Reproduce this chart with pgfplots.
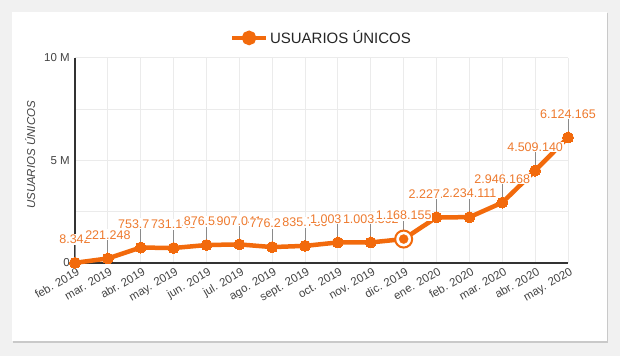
\documentclass[border=0pt]{standalone}
\usepackage{pgfplots}
\pgfplotsset{compat=1.18}
\usepackage{pgfplotstable}
\usepackage{fontspec}
\setmainfont{Liberation Sans}
\usetikzlibrary{shadows}
\definecolor{orangeline}{HTML}{F26A0C}
\definecolor{orangelabel}{HTML}{EE7A2E}
\definecolor{gridgray}{HTML}{EBEBEB}
\definecolor{axisgray}{HTML}{333333}
\definecolor{textgray}{HTML}{444444}
\definecolor{leadgray}{HTML}{8A8A8A}
\definecolor{bggray}{HTML}{F1F1F1}
\pgfplotstableread{
x y label
0 8342 8.342
1 221248 221.248
2 753712 753.712
3 731148 731.148
4 876523 876.523
5 907041 907.041
6 776254 776.254
7 835730 835.730
8 1003145 1.003.145
9 1003562 1.003.562
10 1168155 1.168.155
11 2227330 2.227.330
12 2234111 2.234.111
13 2946168 2.946.168
14 4509140 4.509.140
15 6124165 6.124.165
}\data
\begin{document}
\begin{tikzpicture}[x=1pt,y=1pt]
\path[use as bounding box] (0,0) rectangle (620,356);
\fill[bggray] (0,0) rectangle (620,356);
\fill[white, drop shadow={shadow xshift=0.5pt, shadow yshift=-1.5pt, opacity=0.35}] (12,15) rectangle (607,344);
\begin{axis}[
  at={(75pt,93pt)}, anchor=south west,
  scale only axis, width=493pt, height=205pt,
  xmin=0, xmax=15, ymin=0, ymax=10000000,
  clip=false,
  scaled y ticks=false,
  /pgf/number format/assume math mode=true,
  axis x line*=bottom, axis y line*=left,
  axis line style={axisgray, line width=1.2pt},
  xtick={0,...,15},
  xticklabels={feb. 2019,mar. 2019,abr. 2019,may. 2019,jun. 2019,jul. 2019,ago. 2019,sept. 2019,oct. 2019,nov. 2019,dic. 2019,ene. 2020,feb. 2020,mar. 2020,abr. 2020,may. 2020},
  ytick={0,5000000,10000000},
  yticklabels={0,5 M,10 M},
  minor ytick={2500000,7500000},
  major tick length=0pt, minor tick length=0pt,
  grid=both,
  major grid style={gridgray, line width=1pt},
  minor grid style={gridgray, line width=1pt},
  tick label style={font=\fontsize{11.5}{13}\selectfont, text=textgray},
  xticklabel style={rotate=30, anchor=north east, inner sep=1pt, yshift=-3pt},
  yticklabel style={inner sep=2pt, xshift=-3pt},
  ylabel={USUARIOS ÚNICOS},
  ylabel style={at={(axis description cs:-0.091,0.527)}, anchor=center, font=\fontsize{11.5}{13}\selectfont\itshape, text=textgray},
  legend style={at={(axis description cs:0.5,1.098)}, anchor=center, draw=none, fill=none, font=\fontsize{15}{17}\selectfont, text=black!85},
  legend image code/.code={\draw[orangeline, line width=4pt] (0pt,0pt) -- (34pt,0pt); \fill[orangeline] (17pt,0pt) circle (5pt);},
]
% leader lines
\addplot[draw=none, forget plot, nodes near coords={\textcolor{leadgray}{\rule{1pt}{19pt}}},
  every node near coord/.style={anchor=south, inner sep=0pt}] table[x=x,y=y] {\data};
% main line
\addplot[orangeline, line width=4.5pt, mark=*, mark size=5.5pt, mark options={fill=orangeline, draw=orangeline, line width=0pt}] table[x=x,y=y] {\data};
\addlegendentry{USUARIOS ÚNICOS}
% highlighted point
\addplot[forget plot, only marks, mark=*, mark size=8.5pt, mark options={fill=white, draw=orangeline, line width=2pt}] coordinates {(10,1168155)};
\addplot[forget plot, only marks, mark=*, mark size=4.5pt, mark options={fill=orangeline, draw=orangeline}] coordinates {(10,1168155)};
% labels
\addplot[draw=none, forget plot, point meta=explicit symbolic, nodes near coords,
  every node near coord/.style={anchor=south, yshift=18pt, fill=white, inner sep=1pt, text=orangelabel, font=\fontsize{12.5}{14}\selectfont}] table[x=x,y=y,meta=label] {\data};
\end{axis}
\end{tikzpicture}
\end{document}
